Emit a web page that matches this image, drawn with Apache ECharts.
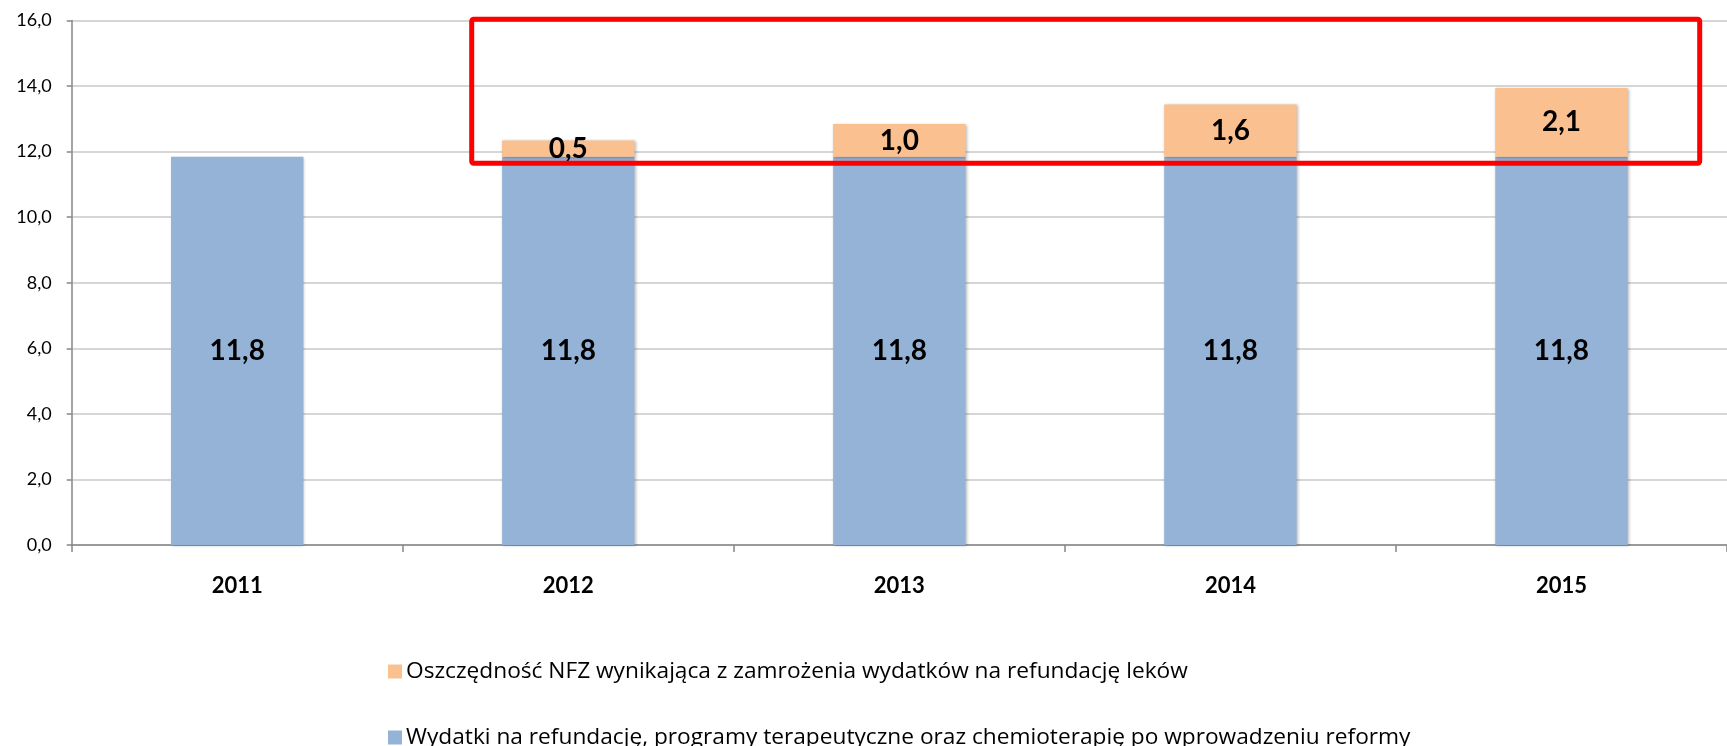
<!DOCTYPE html>
<html>
<head>
<meta charset="utf-8">
<script src="https://cdn.jsdelivr.net/npm/echarts@6/dist/echarts.min.js"></script>
<style>
html,body{margin:0;padding:0;background:#fff;}
#chart{width:1727px;height:746px;}
</style>
</head>
<body>
<div id="chart"></div>
<script>
const categories = ['2011', '2012', '2013', '2014', '2015'];
const wydatki = [11.84, 11.84, 11.84, 11.84, 11.84];
const oszczednosc = [null, 0.5, 1.0, 1.6, 2.1];
const yTicks = { min: 0, max: 16, interval: 2 };
const seriesNames = [
  'Oszczędność NFZ wynikająca z zamrożenia wydatków na refundację leków',
  'Wydatki na refundację, programy terapeutyczne oraz chemioterapię po wprowadzeniu reformy'
];

const fmt = v => (Math.round(v * 10) / 10).toFixed(1).replace('.', ',');
const FONT = 'Lato';
const LEG_FONT = 'Open Sans';
const barShadow = { shadowColor: 'rgba(0,0,0,0.28)', shadowBlur: 3, shadowOffsetX: 1, shadowOffsetY: 1 };

const legendBase = {
  orient: 'horizontal',
  left: 383,
  itemWidth: 14,
  itemHeight: 14,
  itemGap: 10,
  icon: 'rect',
  textStyle: { fontFamily: LEG_FONT, fontSize: 22.7, color: '#000', padding: [0, 0, 0, -1] }
};

const chart = echarts.init(document.getElementById('chart'), null, { renderer: 'canvas' });
chart.setOption({
  animation: false,
  backgroundColor: '#ffffff',
  grid: { left: 71.7, right: -9, top: 20.5, bottom: 201, containLabel: false },
  legend: [
    Object.assign({}, legendBase, { top: 655, data: [seriesNames[0]] }),
    Object.assign({}, legendBase, { top: 721, data: [seriesNames[1]] })
  ],
  xAxis: {
    type: 'category',
    data: categories,
    axisLine: { lineStyle: { color: '#868686', width: 1.5 } },
    axisTick: { show: true, length: 7, lineStyle: { color: '#868686', width: 1.5 } },
    axisLabel: { fontFamily: FONT, fontWeight: 'bold', fontSize: 22, color: '#000', margin: 30 }
  },
  yAxis: {
    type: 'value',
    min: yTicks.min,
    max: yTicks.max,
    interval: yTicks.interval,
    axisLine: { show: true, lineStyle: { color: '#868686', width: 1.5 } },
    axisTick: { show: true, length: 5, lineStyle: { color: '#868686', width: 1.5 } },
    splitLine: { lineStyle: { color: '#c8c8c8', width: 1.5 } },
    axisLabel: { fontFamily: FONT, fontSize: 18, color: '#000', margin: 20, formatter: v => fmt(v) }
  },
  series: [
    {
      name: seriesNames[1],
      type: 'bar',
      stack: 'total',
      barWidth: '40%',
      data: wydatki,
      itemStyle: Object.assign({ color: '#95B3D7' }, barShadow),
      label: {
        show: true, position: 'inside', fontFamily: FONT, fontWeight: 'bold', fontSize: 28, color: '#000',
        formatter: p => fmt(p.value)
      },
      z: 2
    },
    {
      name: seriesNames[0],
      type: 'bar',
      stack: 'total',
      barWidth: '40%',
      data: oszczednosc,
      itemStyle: Object.assign({ color: '#FAC090' }, barShadow),
      label: {
        show: true, position: 'inside', fontFamily: FONT, fontWeight: 'bold', fontSize: 28, color: '#000',
        formatter: p => (p.value == null ? '' : fmt(p.value))
      },
      z: 2
    }
  ],
  graphic: [
    {
      type: 'rect',
      z: 100,
      shape: { x: 471.7, y: 19.3, width: 1228, height: 144, r: 2 },
      style: { fill: 'none', stroke: '#ff0000', lineWidth: 5 }
    }
  ]
});
</script>
</body>
</html>
